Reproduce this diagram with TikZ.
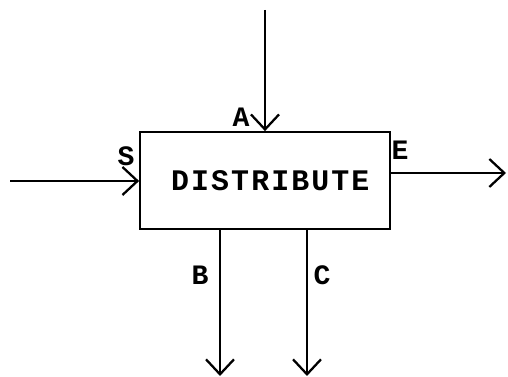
\documentclass[tikz,border=0pt]{standalone}
\usepackage{fontspec}
\newfontfamily\boxfont[LetterSpace=7]{Liberation Mono}
\usepackage{tikz}
\usetikzlibrary{positioning,arrows.meta,calc}

\begin{document}
\begin{tikzpicture}[
    x=0.02cm, y=-0.02cm,
    >={Straight Barb[length=3mm,width=5.6mm,line width=1.3pt]},
    boxstyle/.style={draw,line width=1pt,minimum width=5cm,minimum height=1.94cm,font=\boxfont\bfseries\fontsize{17}{20}\selectfont},
    lbl/.style={font=\boxfont\bfseries\fontsize{16}{18}\selectfont,inner sep=0pt},
    arr/.style={->,line width=1.1pt}
]
\useasboundingbox (0,0) rectangle (508,377);
\node[boxstyle] (dist) at (265,180.5) {\hspace{6pt}DISTRIBUTE};

% free ends
\coordinate (aIn) at (265,10);
\coordinate (sIn) at (10,181);
\coordinate (eOut) at (506,173);
\coordinate (bOut) at (220,376);
\coordinate (cOut) at (307,376);

\draw[arr] (aIn) -- (dist.north);
\draw[arr] (sIn) -- (sIn -| dist.west);
\draw[arr] (dist.east |- eOut) -- (eOut);
\draw[arr] (dist.south -| bOut) -- (bOut);
\draw[arr] (dist.south -| cOut) -- (cOut);

\node[lbl] (la) at (241,117) {A};
\node[lbl] (ls) at (126,156) {S};
\node[lbl] (le) at (400,150) {E};
\node[lbl] (lb) at (200,275) {B};
\node[lbl] (lc) at (322,275) {C};
\end{tikzpicture}
\end{document}
